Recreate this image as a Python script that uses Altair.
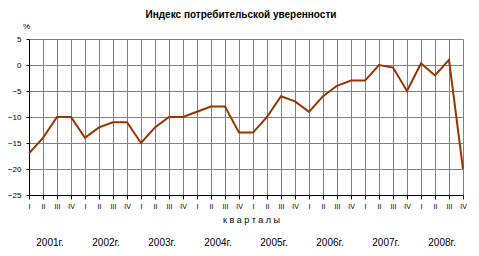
import json
import altair as alt
import pandas as pd

# ---- data ----
years = ["2001г.", "2002г.", "2003г.", "2004г.", "2005г.", "2006г.", "2007г.", "2008г."]
quarter_labels = ["I", "II", "III", "IV"]
values = [-17, -14, -10, -10,
          -14, -12, -11, -11,
          -15, -12, -10, -10,
          -9, -8, -8, -13,
          -13, -10, -6, -7,
          -9, -6, -4, -3,
          -3, 0, -0.5, -5,
          0.3, -2, 1, -20]
y_ticks = [-25, -20, -15, -10, -5, 0, 5]

title_text = "Индекс потребительской уверенности"
x_title = "к в а р т а л ы"
y_title = "%"

n = len(values)
df = pd.DataFrame({"idx": list(range(n)), "value": values})
ydf = pd.DataFrame({"year": years, "idx": [4 * i + 1.5 for i in range(len(years))]})

GRID = "#808080"
LINE = "#993300"

x_axis = alt.Axis(
    values=list(range(n)),
    labelExpr=json.dumps(quarter_labels) + "[datum.value % 4]",
    grid=True, gridColor=GRID,
    domainColor="#000000",
    tickColor="#000000", tickSize=4,
    labelFontSize=7, labelColor="#000000",
    labelPadding=3, labelFlush=False, labelOverlap=False,
    title=x_title, titleFontSize=9, titleFontWeight="normal",
    titleColor="#000000", titlePadding=6, titleX=222,
)
y_axis = alt.Axis(
    values=y_ticks,
    grid=True, gridColor=GRID,
    domainColor="#000000",
    tickColor="#000000", tickSize=3,
    labelFontSize=8, labelColor="#000000", labelPadding=5,
    title=y_title, titleAngle=0, titleFontSize=8,
    titleFontWeight="normal", titleColor="#000000",
    titleX=-3, titleY=-13, titleAlign="center", titleBaseline="middle",
)
x_enc = alt.X("idx:Q", scale=alt.Scale(domain=[0, n - 1], nice=False), axis=x_axis)
y_enc = alt.Y("value:Q", scale=alt.Scale(domain=[-25, 5], nice=False), axis=y_axis)

line = alt.Chart(df).mark_line(color=LINE, strokeWidth=2).encode(x=x_enc, y=y_enc)

year_text = alt.Chart(ydf).mark_text(
    fontSize=10, color="#000000", baseline="middle", align="center"
).encode(x=x_enc, y=alt.value(204), text="year:N")

title = alt.Chart(pd.DataFrame({"t": [title_text]})).mark_text(
    fontSize=10, fontWeight="bold", color="#000000",
    baseline="middle", align="center"
).encode(x=alt.value(212), y=alt.value(-24), text="t:N")

chart = alt.layer(line, year_text, title).properties(
    width=434, height=156,
    autosize=alt.AutoSizeParams(type="none"),
    padding={"left": 29, "top": 39, "right": 16, "bottom": 61},
)

chart.save("out.html", embed_options={"renderer": "svg", "actions": False})
